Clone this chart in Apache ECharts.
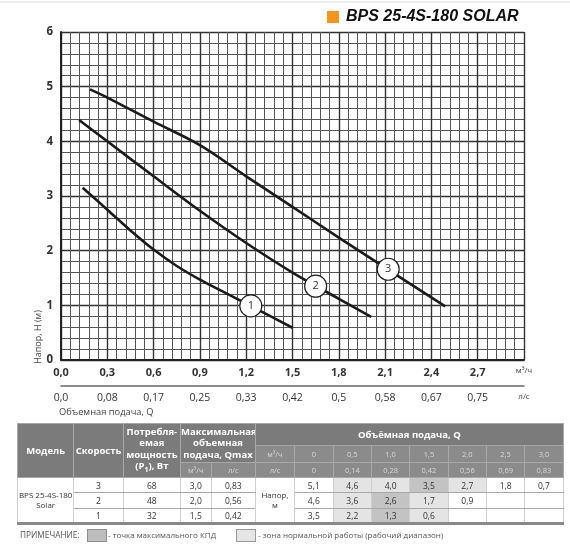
<!DOCTYPE html>
<html><head><meta charset="utf-8">
<script src="https://cdn.jsdelivr.net/npm/echarts@6/dist/echarts.min.js"></script>
<style>
html,body{margin:0;padding:0;background:#fff;width:570px;height:556px;overflow:hidden;font-family:"Open Sans",sans-serif;}
#chart{position:absolute;left:0;top:0;width:570px;height:556px;}
#tbl{position:absolute;left:17px;top:423px;border-collapse:collapse;table-layout:fixed;width:546px;}
#tbl td{padding:0;text-align:center;vertical-align:middle;overflow:hidden;white-space:nowrap;}
#tbl td.h{background:#7b7b7b;color:#fff;font-weight:700;font-size:9.5px;line-height:11.5px;border:1px solid #a8a8a8;}
#tbl td.s{background:#8b8b8b;color:#dadada;font-size:7.5px;border:1px solid #a8a8a8;}
#tbl td.d{color:#333;font-size:8.5px;border:1px solid #a8a8a8;border-left-color:#cfcfcf;border-right-color:#cfcfcf;}
#tbl td.m{color:#333;font-size:8px;line-height:10px;border:1px solid #cfcfcf;border-bottom:3px solid #8a8a8a;}
#tbl tr.last td.d{border-bottom:3px solid #8a8a8a;}
#tbl td.n{background:#e4e4e4;}
#tbl td.x{background:#c3c3c3;}
.note{position:absolute;top:529px;height:12px;line-height:12px;font-size:8px;color:#555;white-space:nowrap;}
.box{position:absolute;top:529px;width:18px;height:11px;}
</style></head>
<body>
<div id="chart"></div>
<table id="tbl"></table>
<div class="note" style="left:20px;font-size:8.3px;">ПРИМЕЧАНИЕ:</div>
<div class="box" style="left:87px;background:#bdbdbd;border:1px solid #8f8f8f;"></div>
<div class="note" style="left:108px;">- точка максимального КПД</div>
<div class="box" style="left:236px;background:#e5e5e5;border:1px solid #9a9a9a;"></div>
<div class="note" style="left:258px;">- зона нормальной работы (рабочий диапазон)</div>
<script>
// ---- chart data ----
const m3Labels = ['0,0','0,3','0,6','0,9','1,2','1,5','1,8','2,1','2,4','2,7','м³/ч'];
const lsLabels = ['0,0','0,08','0,17','0,25','0,33','0,42','0,5','0,58','0,67','0,75','л/с'];
const yLabels = ['0','1','2','3','4','5','6'];

const speed1Q = [0.14,0.3,0.45,0.6,0.75,0.9,1.05,1.2,1.35,1.5];
const speed1H = [3.15,2.75,2.37,2.02,1.72,1.47,1.25,1.03,0.81,0.59];
const speed2Q = [0.117,0.3,0.6,0.9,1.2,1.5,1.8,2.01];
const speed2H = [4.39,4.0,3.36,2.73,2.14,1.6,1.12,0.79];
const speed3Q = [0.188,0.3,0.6,0.9,1.2,1.5,1.8,2.1,2.49];
const speed3H = [4.95,4.8,4.36,3.93,3.36,2.8,2.24,1.69,0.98];

const badgeQ = [1.23,1.65,2.12];
const badgeH = [0.99,1.35,1.66];
const badgeText = ['1','2','3'];

// ---- table data ----
const tModel = 'BPS 25-4S-180';
const tModelSub = 'Solar';
const tSpeeds = ['3','2','1'];
const tPower = ['68','48','32'];
const tQmaxM3 = ['3,0','2,0','1,5'];
const tQmaxLs = ['0,83','0,56','0,42'];
const tQM3 = ['0','0,5','1,0','1,5','2,0','2,5','3,0'];
const tQLs = ['0','0,14','0,28','0,42','0,56','0,69','0,83'];
const tHead = [
  ['5,1','4,6','4,0','3,5','2,7','1,8','0,7'],
  ['4,6','3,6','2,6','1,7','0,9','',''],
  ['3,5','2,2','1,3','0,6','','','']
];
const tZone = [
  ['','n','n','x','n','',''],
  ['','n','x','n','','',''],
  ['','n','x','n','','','']
];

// ---- build table ----
const colW = [56.3,49.4,57.3,30.7,44.3,39,38.7,38.3,38.3,38.4,38.3,38.3,38.4];
let html = '<colgroup>' + colW.map(w => '<col style="width:'+w+'px">').join('') + '</colgroup>';
html += '<tr style="height:22px">' +
  '<td class="h" rowspan="3">Модель</td>' +
  '<td class="h" rowspan="3">Скорость</td>' +
  '<td class="h" rowspan="3">Потребля-<br>емая<br>мощность<br>(P<sub style="font-size:7px">1</sub>), Вт</td>' +
  '<td class="h" rowspan="2" colspan="2">Максимальная<br>объемная<br>подача, Qmax</td>' +
  '<td class="h" colspan="8">Объёмная подача, Q</td></tr>';
html += '<tr style="height:17px"><td class="s">м³/ч</td>' + tQM3.map(v => '<td class="s">'+v+'</td>').join('') + '</tr>';
html += '<tr style="height:15px"><td class="s">м³/ч</td><td class="s">л/с</td><td class="s">л/с</td>' + tQLs.map(v => '<td class="s">'+v+'</td>').join('') + '</tr>';
for (let r = 0; r < 3; r++) {
  html += '<tr style="height:15.3px"' + (r===2?' class="last"':'') + '>';
  if (r === 0) html += '<td class="m" rowspan="3">'+tModel+'<br>'+tModelSub+'</td>';
  html += '<td class="d">'+tSpeeds[r]+'</td><td class="d">'+tPower[r]+'</td><td class="d">'+tQmaxM3[r]+'</td><td class="d">'+tQmaxLs[r]+'</td>';
  if (r === 0) html += '<td class="m" rowspan="3">Напор,<br>м</td>';
  for (let c = 0; c < 7; c++) html += '<td class="d '+tZone[r][c]+'">'+tHead[r][c]+'</td>';
  html += '</tr>';
}
document.getElementById('tbl').innerHTML = html;

// ---- chart ----
const chart = echarts.init(document.getElementById('chart'), null, {renderer:'canvas'});
const zip = (a,b) => a.map((v,i) => [v,b[i]]);
const lineSeries = (q,h) => ({
  type:'line', data: zip(q,h), smooth:0.35, showSymbol:false, xAxisIndex:0, yAxisIndex:0,
  lineStyle:{color:'#1b1b1b', width:2.6}, z:5, silent:true, animation:false
});
const fontF = '"Open Sans", sans-serif';
chart.setOption({
  animation:false,
  grid:{left:61, top:32, right:46, bottom:196},
  xAxis:[{
    type:'value', min:0, max:3, interval:0.3, position:'bottom',
    axisLine:{show:true, lineStyle:{color:'#222', width:2}},
    axisTick:{show:false},
    axisLabel:{margin:7, fontFamily:fontF, fontWeight:'bold', fontSize:11, color:'#333',
      formatter: v => { const i = Math.round(v/0.3); return i === 10 ? '{u|'+m3Labels[i]+'}' : m3Labels[i]; },
      rich:{u:{fontSize:8, fontWeight:'normal', color:'#444', fontFamily:fontF}}},
    splitLine:{show:true, lineStyle:{color:'#333', width:1.4}},
    minorTick:{show:false, splitNumber:5},
    minorSplitLine:{show:true, lineStyle:{color:'#555', width:1}}
  },{
    type:'value', min:0, max:3, interval:0.3, position:'bottom', offset:26,
    axisLine:{show:true, lineStyle:{color:'#666', width:1.5}},
    axisTick:{show:false},
    splitLine:{show:false},
    axisLabel:{margin:7, fontFamily:fontF, fontSize:10.5, color:'#333',
      formatter: v => { const i = Math.round(v/0.3); return i === 10 ? '{u|'+lsLabels[i]+'}' : lsLabels[i]; },
      rich:{u:{fontSize:8, color:'#444', fontFamily:fontF}}}
  }],
  yAxis:{
    type:'value', min:0, max:6, interval:1,
    axisLine:{show:true, lineStyle:{color:'#222', width:2}},
    axisTick:{show:false},
    axisLabel:{margin:8, fontFamily:fontF, fontWeight:'bold', fontSize:11.5, color:'#333',
      formatter: v => yLabels[Math.round(v)]},
    splitLine:{show:true, lineStyle:{color:'#333', width:1.4}},
    minorTick:{show:false, splitNumber:5},
    minorSplitLine:{show:true, lineStyle:{color:'#555', width:1}}
  },
  series:[
    lineSeries(speed1Q, speed1H),
    lineSeries(speed2Q, speed2H),
    lineSeries(speed3Q, speed3H),
    {
      type:'scatter', xAxisIndex:0, yAxisIndex:0, z:10, silent:true,
      data: badgeQ.map((q,i) => ({value:[q, badgeH[i]], name:badgeText[i]})),
      symbol:'circle', symbolSize:22,
      itemStyle:{color:'#fff', borderColor:'#222', borderWidth:1.2, opacity:1},
      label:{show:true, position:'inside', formatter: p => p.name, fontFamily:fontF, fontSize:11, color:'#333'}
    }
  ],
  graphic:[
    {type:'line', shape:{x1:0, y1:2, x2:570, y2:2}, style:{stroke:'#dedede', lineWidth:1}},
    {type:'rect', shape:{x:327, y:11, width:12, height:12}, style:{fill:'#f7941d'}},
    {type:'text', x:346, y:17, style:{text:'BPS 25-4S-180 SOLAR', font:'italic bold 16px "Liberation Sans", Arial, sans-serif', fill:'#111', verticalAlign:'middle'}},
    {type:'text', x:38, y:337, rotation:Math.PI/2, style:{text:'Напор, H (м)', font:'9px "Open Sans", sans-serif', fill:'#444', align:'center', verticalAlign:'middle'}},
    {type:'text', x:59, y:412, style:{text:'Объемная подача, Q', font:'9.3px "Open Sans", sans-serif', fill:'#444', verticalAlign:'middle'}}
  ]
});
</script>
</body></html>
